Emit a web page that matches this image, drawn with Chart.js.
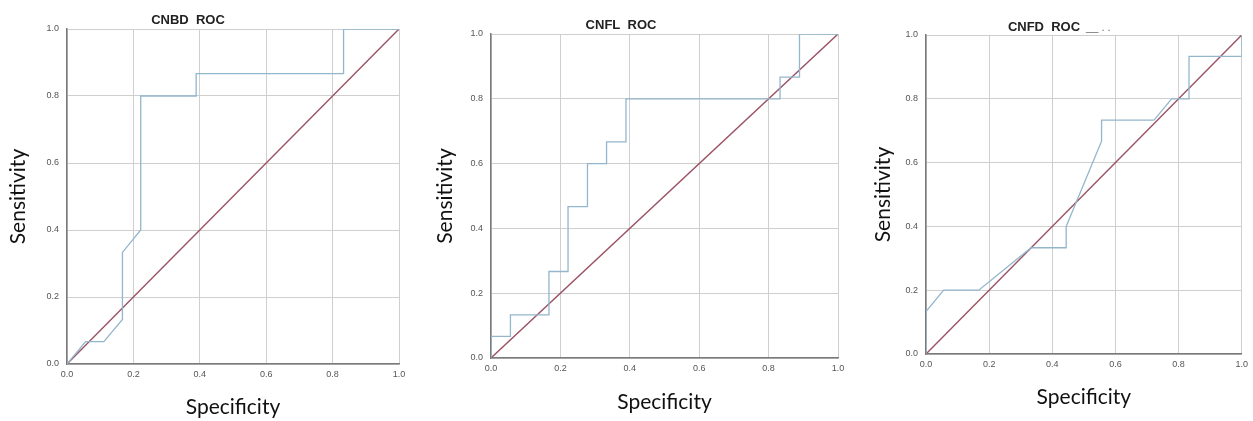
<!DOCTYPE html>
<html>
<head>
<meta charset="utf-8">
<script src="https://cdn.jsdelivr.net/npm/chart.js@4/dist/chart.umd.min.js"></script>
<style>
  html, body { margin: 0; padding: 0; background: #fff; }
  #wrap { position: relative; width: 1253px; height: 421px; overflow: hidden; }
  .panel { position: absolute; top: 0; height: 421px; }
</style>
</head>
<body>
<div id="wrap">
  <div class="panel" style="left:0px;width:415px"><canvas id="c1"></canvas></div>
  <div class="panel" style="left:420px;width:430px"><canvas id="c2"></canvas></div>
  <div class="panel" style="left:850px;width:403px"><canvas id="c3"></canvas></div>
</div>
<script>
// ROC points (x = specificity axis, y = sensitivity)
const cnbdSpec = [0, 0.056, 0.111, 0.167, 0.167, 0.222, 0.222, 0.389, 0.389, 0.833, 0.833, 1];
const cnbdSens = [0, 0.067, 0.067, 0.133, 0.333, 0.4, 0.8, 0.8, 0.867, 0.867, 1, 1];

const cnflSpec = [0, 0, 0.056, 0.056, 0.167, 0.167, 0.222, 0.222, 0.278, 0.278, 0.333, 0.333, 0.389, 0.389, 0.833, 0.833, 0.889, 0.889, 1];
const cnflSens = [0, 0.067, 0.067, 0.133, 0.133, 0.267, 0.267, 0.467, 0.467, 0.6, 0.6, 0.667, 0.667, 0.8, 0.8, 0.867, 0.867, 1, 1];

const cnfdSpec = [0, 0, 0.056, 0.167, 0.333, 0.444, 0.444, 0.556, 0.556, 0.722, 0.778, 0.833, 0.833, 1, 1];
const cnfdSens = [0, 0.133, 0.2, 0.2, 0.333, 0.333, 0.4, 0.667, 0.733, 0.733, 0.8, 0.8, 0.933, 0.933, 1];

// reference diagonal
const refSpec = [0, 1];
const refSens = [0, 1];

const titles = ["CNBD  ROC", "CNFL  ROC", "CNFD  ROC"];
const xLabel = "Specificity";
const yLabel = "Sensitivity";

const toPoints = (xs, ys) => xs.map((x, i) => ({ x: x, y: ys[i] }));

// draws the small bold title above each plot
const panelTitle = {
    id: 'panelTitle',
    afterDraw(chart, args, opts) {
        const ctx = chart.ctx;
        ctx.save();
        ctx.font = 'bold 13px "Liberation Sans", Arial, sans-serif';
        ctx.fillStyle = '#222';
        ctx.textAlign = 'center';
        ctx.textBaseline = 'middle';
        ctx.fillText(opts.text, opts.x, opts.y);
        if (opts.extra) {
            const w = ctx.measureText(opts.text).width;
            ctx.font = '11px "Liberation Sans", Arial, sans-serif';
            ctx.fillStyle = '#666';
            ctx.textAlign = 'left';
            ctx.fillText(opts.extra, opts.x + w / 2 + 6, opts.y + 1);
        }
        ctx.restore();
    }
};

const makePanel = (id, spec, sens, cfg) => {
    const ctx = document.querySelector(id);
    new Chart(ctx, {
        type: 'scatter',
        data: {
            datasets: [{
                data: toPoints(spec, sens),
                showLine: true,
                borderColor: '#93b6cc',
                borderWidth: 1.3,
                pointRadius: 0,
                tension: 0
            }, {
                data: toPoints(refSpec, refSens),
                showLine: true,
                borderColor: '#9a5264',
                borderWidth: 1.4,
                pointRadius: 0
            }]
        },
        options: {
            responsive: true,
            maintainAspectRatio: false,
            animation: false,
            layout: { padding: { top: cfg.top, right: cfg.right, left: 0, bottom: 0 } },
            plugins: {
                legend: { display: false },
                tooltip: { enabled: false },
                panelTitle: { text: cfg.title, x: cfg.tx, y: cfg.ty, extra: cfg.extra }
            },
            scales: {
                x: {
                    type: 'linear',
                    min: 0,
                    max: 1,
                    afterFit: (scale) => { scale.height = cfg.xh },
                    ticks: {
                        stepSize: 0.2,
                        padding: 5,
                        color: '#555',
                        font: { size: 9, family: '"Liberation Sans", Arial, sans-serif' },
                        callback: (v) => v.toFixed(1)
                    },
                    grid: { color: '#cfcfcf', drawTicks: false },
                    border: { color: '#7a7a7a', width: 1.5 },
                    title: {
                        display: true,
                        text: xLabel,
                        color: '#111',
                        font: { size: 21, family: 'Lato, "Open Sans", sans-serif' },
                        padding: { top: 0, bottom: cfg.xtp }
                    }
                },
                y: {
                    type: 'linear',
                    min: 0,
                    max: 1,
                    afterFit: (scale) => { scale.width = cfg.yw },
                    ticks: {
                        stepSize: 0.2,
                        padding: 8,
                        color: '#555',
                        font: { size: 9, family: '"Liberation Sans", Arial, sans-serif' },
                        callback: (v) => v.toFixed(1)
                    },
                    grid: { color: '#cfcfcf', drawTicks: false },
                    border: { color: '#7a7a7a', width: 1.5 },
                    title: {
                        display: true,
                        text: yLabel,
                        color: '#111',
                        font: { size: 21, family: 'Lato, "Open Sans", sans-serif' },
                        padding: { top: cfg.ytp, bottom: 0 }
                    }
                }
            }
        },
        plugins: [panelTitle]
    });
};

makePanel('#c1', cnbdSpec, cnbdSens, { title: titles[0], tx: 188, ty: 20, top: 29, right: 16, yw: 67, xh: 57, ytp: 6, xtp: 1 });
makePanel('#c2', cnflSpec, cnflSens, { title: titles[1], tx: 201, ty: 25, top: 34, right: 12, yw: 71, xh: 63, ytp: 13, xtp: 6 });
makePanel('#c3', cnfdSpec, cnfdSens, { title: titles[2], tx: 194, ty: 27, top: 35, right: 9, yw: 76, xh: 67, ytp: 21, xtp: 11, extra: '__ . .' });
</script>
</body>
</html>
